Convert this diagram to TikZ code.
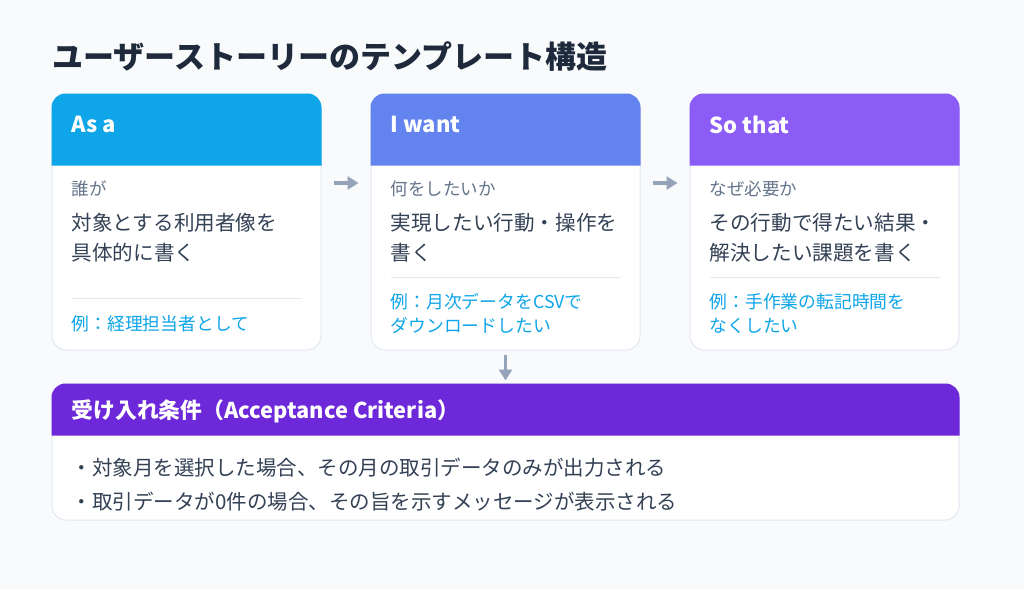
\documentclass[tikz,border=0pt]{standalone}
\usepackage{fontspec}
\setmainfont{Noto Sans CJK JP}
\usetikzlibrary{arrows.meta,calc}
\definecolor{bg}{HTML}{F8FAFC}
\definecolor{cardborder}{HTML}{E2E8F0}
\definecolor{titlecol}{HTML}{1E293B}
\definecolor{maincol}{HTML}{334155}
\definecolor{subcol}{HTML}{64748B}
\definecolor{excol}{HTML}{0EA5E9}
\definecolor{hdA}{HTML}{0EA5E9}
\definecolor{hdB}{HTML}{6383EF}
\definecolor{hdC}{HTML}{8B5CF6}
\definecolor{hdD}{HTML}{6D28D9}
\definecolor{arrcol}{HTML}{94A3B8}
\definecolor{sepcol}{HTML}{E2E8F0}
\tikzset{
  card/.style={rectangle, rounded corners=14pt, fill=white, draw=cardborder, line width=1pt, minimum width=269pt, minimum height=256pt, inner sep=0pt},
  bigcard/.style={rectangle, rounded corners=14pt, fill=white, draw=cardborder, line width=1pt, minimum width=907pt, minimum height=136pt, inner sep=0pt},
  hdtext/.style={anchor=west, inner sep=0pt, text=white, font=\fontsize{22}{26}\selectfont\bfseries},
  subtext/.style={anchor=west, inner sep=0pt, text=subcol, font=\fontsize{17.5}{21}\selectfont},
  maintext/.style={anchor=west, inner sep=0pt, text=maincol, font=\fontsize{20.6}{25}\selectfont},
  extext/.style={anchor=west, inner sep=0pt, text=excol, font=\fontsize{17.8}{21}\selectfont},
  bullettext/.style={anchor=west, inner sep=0pt, text=maincol, font=\fontsize{20.5}{24}\selectfont},
  sepline/.style={draw=sepcol, line width=1.2pt},
  arr/.style={draw=arrcol, line width=3.5pt, -{Triangle[width=13pt,length=11pt]}},
}
\begin{document}
\begin{tikzpicture}[x=1pt,y=-1pt]
\fill[bg] (0,0) rectangle (1024,589);
\useasboundingbox (0,0) rectangle (1024,589);

\node[anchor=west, inner sep=0pt, text=titlecol, font=\fontsize{31}{35}\selectfont\bfseries] (title) at (52,57) {ユーザーストーリーのテンプレート構造};

% cards
\node[card] (c1) at (186.5,222) {};
\node[card] (c2) at (505.5,222) {};
\node[card] (c3) at (824.5,222) {};

\fill[hdA] ($(c1.north west)+(0,72)$) [rounded corners=14pt] -- (c1.north west) -- (c1.north east) [sharp corners] -- ($(c1.north east)+(0,72)$) -- cycle;
\fill[hdB] ($(c2.north west)+(0,72)$) [rounded corners=14pt] -- (c2.north west) -- (c2.north east) [sharp corners] -- ($(c2.north east)+(0,72)$) -- cycle;
\fill[hdC] ($(c3.north west)+(0,72)$) [rounded corners=14pt] -- (c3.north west) -- (c3.north east) [sharp corners] -- ($(c3.north east)+(0,72)$) -- cycle;

% card 1
\node[hdtext] (h1) at ($(c1.north west)+(20,31)$) {As a};
\node[subtext] (s1) at ($(c1.north west)+(20,95)$) {誰が};
\node[maintext] (m1a) at ($(c1.north west)+(20,129)$) {対象とする利用者像を};
\node[maintext] (m1b) at ($(c1.north west)+(20,159)$) {具体的に書く};
\draw[sepline] ($(c1.north west)+(20,205)$) -- ($(c1.north east)+(-20,205)$);
\node[extext] (e1) at ($(c1.north west)+(20,230)$) {例：経理担当者として};

% card 2
\node[hdtext] (h2) at ($(c2.north west)+(20,31)$) {I want};
\node[subtext] (s2) at ($(c2.north west)+(20,95)$) {何をしたいか};
\node[maintext] (m2a) at ($(c2.north west)+(20,129)$) {実現したい行動・操作を};
\node[maintext] (m2b) at ($(c2.north west)+(20,159)$) {書く};
\draw[sepline] ($(c2.north west)+(20,184)$) -- ($(c2.north east)+(-20,184)$);
\node[extext] (e2a) at ($(c2.north west)+(20,208)$) {例：月次データをCSVで};
\node[extext] (e2b) at ($(c2.north west)+(20,232)$) {ダウンロードしたい};

% card 3
\node[hdtext] (h3) at ($(c3.north west)+(20,31)$) {So that};
\node[subtext] (s3) at ($(c3.north west)+(20,95)$) {なぜ必要か};
\node[maintext] (m3a) at ($(c3.north west)+(20,129)$) {その行動で得たい結果・};
\node[maintext] (m3b) at ($(c3.north west)+(20,159)$) {解決したい課題を書く};
\draw[sepline] ($(c3.north west)+(20,184)$) -- ($(c3.north east)+(-20,184)$);
\node[extext] (e3a) at ($(c3.north west)+(20,208)$) {例：手作業の転記時間を};
\node[extext] (e3b) at ($(c3.north west)+(20,232)$) {なくしたい};

% acceptance criteria
\node[bigcard] (ac) at (505.5,452) {};
\fill[hdD] ($(ac.north west)+(0,52)$) [rounded corners=14pt] -- (ac.north west) -- (ac.north east) [sharp corners] -- ($(ac.north east)+(0,52)$) -- cycle;
\node[hdtext, font=\fontsize{21.8}{25}\selectfont\bfseries] (ach) at ($(ac.north west)+(20,28)$) {受け入れ条件（Acceptance Criteria）};
\node[bullettext] (b1) at ($(ac.north west)+(20,84)$) {・対象月を選択した場合、その月の取引データのみが出力される};
\node[bullettext] (b2) at ($(ac.north west)+(20,118)$) {・取引データが0件の場合、その旨を示すメッセージが表示される};

% connectors
\draw[arr] ($(c1.east)+(12,-39)$) -- ($(c2.west)+(-12,-39)$);
\draw[arr] ($(c2.east)+(12,-39)$) -- ($(c3.west)+(-12,-39)$);
\draw[arr] ($(c2.south)+(0,4)$) -- ($(ac.north)+(0,-3)$);
\end{tikzpicture}
\end{document}
